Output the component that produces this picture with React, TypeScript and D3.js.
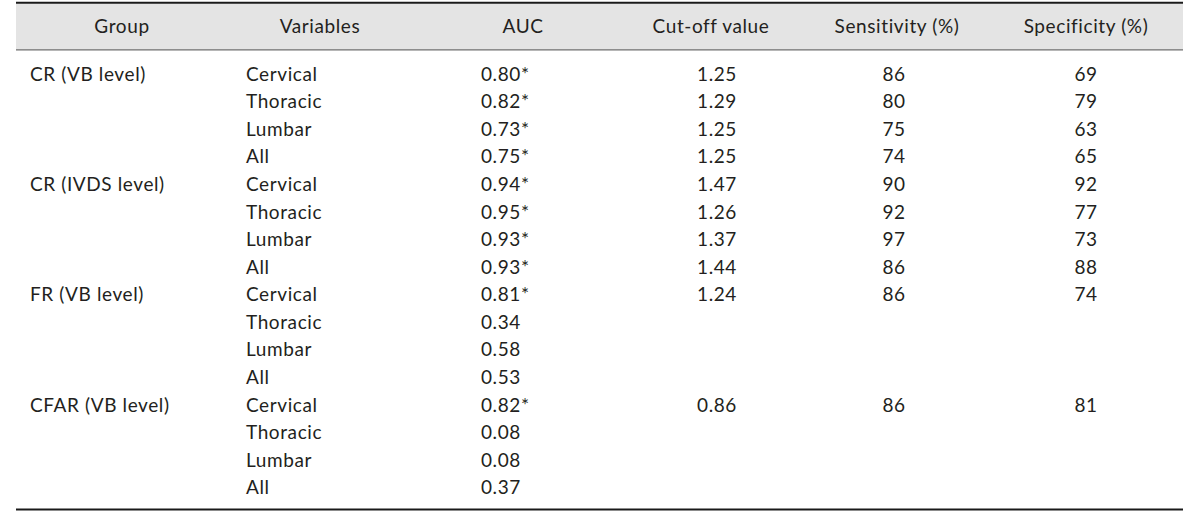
import { useRef, useEffect } from 'react';
import * as d3 from 'd3';

const headers = ['Group', 'Variables', 'AUC', 'Cut-off value', 'Sensitivity (%)', 'Specificity (%)'];
const groups = ['CR (VB level)', 'CR (IVDS level)', 'FR (VB level)', 'CFAR (VB level)'];
const variables = ['Cervical', 'Thoracic', 'Lumbar', 'All'];
const auc = [
  '0.80*', '0.82*', '0.73*', '0.75*',
  '0.94*', '0.95*', '0.93*', '0.93*',
  '0.81*', '0.34', '0.58', '0.53',
  '0.82*', '0.08', '0.08', '0.37',
];
const cutoff = ['1.25', '1.29', '1.25', '1.25', '1.47', '1.26', '1.37', '1.44', '1.24', '', '', '', '0.86', '', '', ''];
const sensitivity = ['86', '80', '75', '74', '90', '92', '97', '86', '86', '', '', '', '86', '', '', ''];
const specificity = ['69', '79', '63', '65', '92', '77', '73', '88', '74', '', '', '', '81', '', '', ''];

const W = 1200;
const H = 514;
const FONT = 'Lato, sans-serif';
const INK = '#231f20';

export default function App() {
  const svgRef = useRef<SVGSVGElement | null>(null);

  useEffect(() => {
    if (!svgRef.current) return;
    const svg = d3.select(svgRef.current);
    svg.selectAll('*').remove();

    const left = 16;
    const right = 1183;
    const headTop = 3.5;
    const headBottom = 49.8;

    const rows = d3.range(groups.length * variables.length);
    const y = d3.scaleBand<number>().domain(rows).range([60.5, 501.5]).padding(0);

    // column anchors
    const colX = [30, 246, 481, 717, 894, 1086];
    const headX = [122, 320, 523, 711, 897, 1086];

    svg.append('rect')
      .attr('x', left).attr('y', headTop)
      .attr('width', right - left).attr('height', headBottom - headTop)
      .attr('fill', '#e4e4e4');

    svg.append('line')
      .attr('x1', left).attr('x2', right).attr('y1', 2.7).attr('y2', 2.7)
      .attr('stroke', '#1a1a1a').attr('stroke-width', 2);
    svg.append('line')
      .attr('x1', left).attr('x2', right).attr('y1', headBottom).attr('y2', headBottom)
      .attr('stroke', '#6e6e6e').attr('stroke-width', 1.3);
    svg.append('line')
      .attr('x1', left).attr('x2', right).attr('y1', 509.5).attr('y2', 509.5)
      .attr('stroke', '#1a1a1a').attr('stroke-width', 2.2);

    const text = svg.append('g')
      .attr('font-family', FONT).attr('font-size', 19)
      .attr('letter-spacing', 0.6).attr('fill', INK);

    text.selectAll('text.head')
      .data(headers)
      .join('text')
      .attr('class', 'head')
      .attr('x', (_, i) => headX[i])
      .attr('y', 33.3)
      .attr('text-anchor', 'middle')
      .text((d) => d);

    const baseline = (r: number) => y(r)! + y.bandwidth() / 2 + 6.5;

    text.selectAll('text.group')
      .data(groups)
      .join('text')
      .attr('class', 'group')
      .attr('x', colX[0])
      .attr('y', (_, i) => baseline(i * variables.length))
      .text((d) => d);

    text.selectAll('text.var')
      .data(rows)
      .join('text')
      .attr('class', 'var')
      .attr('x', colX[1])
      .attr('y', (r) => baseline(r))
      .text((r) => variables[r % variables.length]);

    text.selectAll('text.auc')
      .data(auc)
      .join('text')
      .attr('class', 'auc')
      .attr('x', colX[2])
      .attr('y', (_, i) => baseline(i))
      .text((d) => d);

    [cutoff, sensitivity, specificity].forEach((col, c) => {
      text.append('g').selectAll('text')
        .data(col)
        .join('text')
        .attr('x', colX[3 + c])
        .attr('y', (_, i) => baseline(i))
        .attr('text-anchor', 'middle')
        .text((d) => d);
    });
  }, []);

  return (
    <svg
      ref={svgRef}
      width={W}
      height={H}
      style={{ position: 'absolute', left: 0, top: 0, display: 'block', background: '#fff' }}
    />
  );
}
